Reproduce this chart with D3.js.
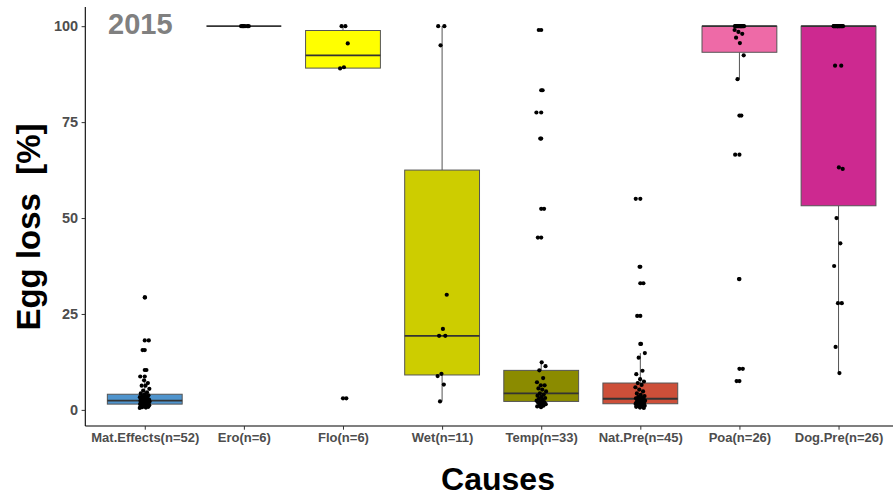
<!DOCTYPE html>
<html><head><meta charset="utf-8">
<script src="https://cdn.jsdelivr.net/npm/d3@7"></script>
<style>
html,body{margin:0;padding:0;background:#fff;}
svg{display:block;font-family:"Liberation Sans",Arial,sans-serif;}
</style></head>
<body><svg id="chart" width="893" height="497"></svg>
<script>
const categories = ["Mat.Effects","Ero","Flo","Wet","Temp","Nat.Pre","Poa","Dog.Pre"];
const tickLabels = ["Mat.Effects(n=52)","Ero(n=6)","Flo(n=6)","Wet(n=11)","Temp(n=33)","Nat.Pre(n=45)","Poa(n=26)","Dog.Pre(n=26)"];
const fillColors = ["#4F94CD","#EE7600","#FFFF00","#CDCD00","#8B8B00","#CD4F39","#EE6AA7","#CD2990"];
const yTicks = [0,25,50,75,100];

const matEffects = [0.5,0.6,0.7,0.8,0.9,1.0,1.0,1.1,1.2,1.2,1.3,1.4,1.45,
  1.52,1.6,1.7,1.8,1.9,1.9,2.0,2.1,2.2,2.2,2.3,2.3,2.4,
  2.4,2.5,2.6,2.7,2.8,2.9,3.0,3.1,3.3,3.5,3.6,3.8,4.0,
  4.3,4.6,5.0,5.5,6.3,6.3,7.0,7.7,8.7,10.4,15.6,18.1,29.3];
const ero = [100,100,100,100,100,100];
const flo = [100,100,95.5,89.3,89.0,3.0];
const wet = [100,100,95,30,21.1,19.3,19.3,9.4,8.8,6.6,2.2];
const temp = [0.7,0.9,1.1,1.3,1.5,1.7,1.9,2.0,2.2,2.4,2.6,2.9,3.1,3.4,3.7,4.0,4.3,
  4.8,5.3,5.6,6.4,6.4,7.2,8.3,10.3,11.4,12.4,44.9,52.4,70.7,77.5,83.3,99];
const natPre = [0.5,0.6,0.8,0.9,1.0,1.1,1.2,1.3,1.4,1.5,1.55,1.6,
  1.7,1.8,1.9,2.0,2.1,2.3,2.4,2.5,2.6,2.8,2.9,
  3.0,3.2,3.4,3.6,3.9,4.3,4.8,5.3,5.9,6.5,7.0,
  7.4,8.0,9.3,10.2,13.6,14.8,17.2,24.5,33,37.3,55];
const poa = [7.5,10.7,34.1,66.5,76.7,86.2,92.4,95.6,97,98,98.5,99,
  100,100,100,100,100,100,100,100,100,100,100,100,100,100];
const dogPre = [9.6,16.4,27.8,27.8,37.5,43.4,50,62.8,63.2,89.7,89.7,
  100,100,100,100,100,100,100,100,100,100,100,100,100,100,100];
const seriesValues = [matEffects,ero,flo,wet,temp,natPre,poa,dogPre];

const svg = d3.select("#chart");
const pLeft = 85.3, pRight = 898, pTop = 7, pBottom = 426;

const x = d3.scalePoint().domain(categories).range([pLeft,pRight]).padding(0.6);
const y = d3.scaleLinear().domain([-4.2,105]).range([pBottom,pTop]);
const boxW = x.step()*0.755;

function stats(vals){
  const s = vals.slice().sort(d3.ascending);
  const q1 = d3.quantileSorted(s,0.25), med = d3.quantileSorted(s,0.5), q3 = d3.quantileSorted(s,0.75);
  const iqr = q3-q1, lo = q1-1.5*iqr, hi = q3+1.5*iqr;
  const inside = s.filter(v=>v>=lo && v<=hi);
  return {q1,med,q3,wlo:d3.min(inside),whi:d3.max(inside),out:s.filter(v=>v<lo||v>hi)};
}

const gBox = svg.append("g");
categories.forEach((c,ci)=>{
  const st = stats(seriesValues[ci]);
  const cx = x(c);
  const g = gBox.append("g");
  g.append("line").attr("x1",cx).attr("x2",cx).attr("y1",y(st.q3)).attr("y2",y(st.whi))
    .attr("stroke","#555").attr("stroke-width",1);
  g.append("line").attr("x1",cx).attr("x2",cx).attr("y1",y(st.q1)).attr("y2",y(st.wlo))
    .attr("stroke","#555").attr("stroke-width",1);
  g.append("rect").attr("x",cx-boxW/2).attr("width",boxW)
    .attr("y",y(st.q3)).attr("height",Math.max(0,y(st.q1)-y(st.q3)))
    .attr("fill",fillColors[ci]).attr("stroke","#555").attr("stroke-width",1);
  g.append("line").attr("x1",cx-boxW/2).attr("x2",cx+boxW/2).attr("y1",y(st.med)).attr("y2",y(st.med))
    .attr("stroke","#333").attr("stroke-width",1.8);
  g.selectAll("circle.out").data(st.out).join("circle").attr("class","out")
    .attr("cx",cx).attr("cy",d=>y(d)).attr("r",2.1).attr("fill","#000");
});

// jittered points (deterministic low-discrepancy offsets)
const gPts = svg.append("g");
categories.forEach((c,ci)=>{
  const vals = seriesValues[ci];
  gPts.selectAll(null).data(vals).join("circle")
    .attr("cx",(d,i)=>x(c)+(((i*0.6180339887+ci*0.37)%1)-0.5)*10)
    .attr("cy",d=>y(d)).attr("r",2.1).attr("fill","#000");
});

// axes
const yAxis = svg.append("g").attr("transform",`translate(${pLeft},0)`)
  .call(d3.axisLeft(y).tickValues(yTicks).tickSize(3.7).tickPadding(3.5));
yAxis.select(".domain").attr("stroke","#000").attr("stroke-width",1.1).attr("d",`M0,${pTop}V${pBottom}`);
yAxis.selectAll(".tick line").attr("stroke","#333");
yAxis.selectAll(".tick text").attr("fill","#4D4D4D").attr("font-size","14.5px").attr("font-weight","bold")
  .attr("font-family","Liberation Sans, Arial, sans-serif");

const xAxis = svg.append("g").attr("transform",`translate(0,${pBottom})`)
  .call(d3.axisBottom(x).tickFormat((d,i)=>tickLabels[i]).tickSize(3.7).tickPadding(3));
xAxis.select(".domain").attr("stroke","#000").attr("stroke-width",1.1).attr("d",`M${pLeft},0H${pRight}`);
xAxis.selectAll(".tick line").attr("stroke","#333");
xAxis.selectAll(".tick text").attr("fill","#4D4D4D").attr("font-size","13px").attr("font-weight","bold")
  .attr("font-family","Liberation Sans, Arial, sans-serif");

// titles
svg.append("text").attr("x",498).attr("y",490).attr("text-anchor","middle")
  .attr("font-size","32px").attr("font-weight","bold").attr("fill","#000").text("Causes");
svg.append("text").attr("transform","translate(40,227) rotate(-90)").attr("text-anchor","middle")
  .attr("font-size","33px").attr("font-weight","bold").attr("fill","#000")
  .style("white-space","pre").text("Egg loss  [%]");
svg.append("text").attr("x",108).attr("y",33.5).attr("font-size","29px").attr("font-weight","bold")
  .attr("fill","#808080").text("2015");
</script></body></html>
